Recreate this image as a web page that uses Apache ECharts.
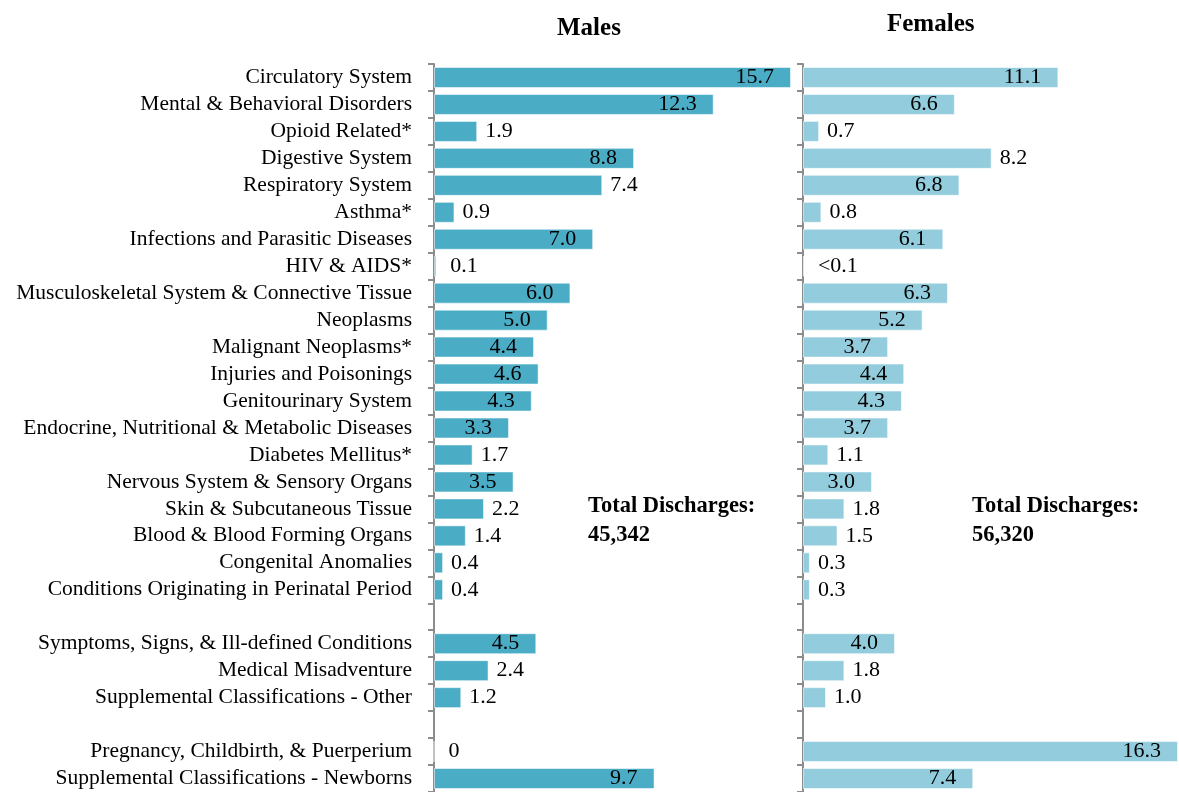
<!DOCTYPE html>
<html>
<head>
<meta charset="utf-8">
<script src="https://cdn.jsdelivr.net/npm/echarts@6/dist/echarts.min.js"></script>
<style>
html,body{margin:0;padding:0;background:#fff;}
#chart{width:1179px;height:792px;}
</style>
</head>
<body>
<div id="chart"></div>
<script>
const categories = [
  'Circulatory System',
  'Mental & Behavioral Disorders',
  'Opioid Related*',
  'Digestive System',
  'Respiratory System',
  'Asthma*',
  'Infections and Parasitic Diseases',
  'HIV & AIDS*',
  'Musculoskeletal System & Connective Tissue',
  'Neoplasms',
  'Malignant Neoplasms*',
  'Injuries and Poisonings',
  'Genitourinary System',
  'Endocrine, Nutritional & Metabolic Diseases',
  'Diabetes Mellitus*',
  'Nervous System & Sensory Organs',
  'Skin & Subcutaneous Tissue',
  'Blood & Blood Forming Organs',
  'Congenital Anomalies',
  'Conditions Originating in Perinatal Period',
  '',
  'Symptoms, Signs, & Ill-defined Conditions',
  'Medical Misadventure',
  'Supplemental Classifications - Other',
  '',
  'Pregnancy, Childbirth, & Puerperium',
  'Supplemental Classifications - Newborns'
];
const maleValues = [15.7, 12.3, 1.9, 8.8, 7.4, 0.9, 7.0, 0.1, 6.0, 5.0, 4.4, 4.6, 4.3, 3.3, 1.7, 3.5, 2.2, 1.4, 0.4, 0.4, null, 4.5, 2.4, 1.2, null, 0, 9.7];
const femaleValues = [11.1, 6.6, 0.7, 8.2, 6.8, 0.8, 6.1, 0.04, 6.3, 5.2, 3.7, 4.4, 4.3, 3.7, 1.1, 3.0, 1.8, 1.5, 0.3, 0.3, null, 4.0, 1.8, 1.0, null, 16.3, 7.4];
const panelTitles = ['Males', 'Females'];
const totalLabel = 'Total Discharges:';
const totals = ['45,342', '56,320'];
// labels placed outside the bar despite being long (as in the reference)
const outsideExceptions = [['Respiratory System'], ['Digestive System']];

const FONT = 'Liberation Serif';

function fmt(v) {
  if (v > 0 && v < 0.1) return '<0.1';
  return v === 0 ? '0' : v.toFixed(1);
}
function buildData(values, panel) {
  return values.map((v, i) => {
    if (v === null) return {value: null, label: {show: false}};
    const inside = v >= 3 && outsideExceptions[panel].indexOf(categories[i]) < 0;
    return {
      value: v,
      label: {
        show: true,
        position: inside ? 'insideRight' : 'right',
        distance: inside ? 17 : (v < 0.2 ? 14 : 8),
        formatter: fmt(v)
      }
    };
  });
}

const chart = echarts.init(document.getElementById('chart'));
const axisLineStyle = {color: '#8c8c8c', width: 2};
const commonY = {
  type: 'category',
  data: categories,
  inverse: true,
  axisLine: {show: true, lineStyle: axisLineStyle},
  axisTick: {show: true, length: 6, interval: 0, lineStyle: axisLineStyle},
  splitLine: {show: false}
};
const labelStyle = {color: '#000', fontFamily: FONT, fontSize: 22, padding: [4, 0, 0, 0]};

chart.setOption({
  animation: false,
  backgroundColor: '#fff',
  grid: [
    {left: 434, width: 357, top: 64, height: 731},
    {left: 803, width: 375, top: 64, height: 731}
  ],
  xAxis: [
    {gridIndex: 0, type: 'value', min: 0, max: 15.7, show: false},
    {gridIndex: 1, type: 'value', min: 0, max: 16.3, show: false}
  ],
  yAxis: [
    Object.assign({}, commonY, {gridIndex: 0, axisLabel: {color: '#000', fontFamily: FONT, fontSize: 21.5, margin: 22, interval: 0, hideOverlap: false}}),
    Object.assign({}, commonY, {gridIndex: 1, axisLabel: {show: false}})
  ],
  series: [
    {
      type: 'bar', xAxisIndex: 0, yAxisIndex: 0, barWidth: 21,
      data: buildData(maleValues, 0),
      itemStyle: {color: '#4BACC6', borderColor: 'rgba(255,255,255,0.55)', borderWidth: 1},
      label: labelStyle
    },
    {
      type: 'bar', xAxisIndex: 1, yAxisIndex: 1, barWidth: 21,
      data: buildData(femaleValues, 1),
      itemStyle: {color: '#93CDDD', borderColor: 'rgba(255,255,255,0.55)', borderWidth: 1},
      label: labelStyle
    }
  ],
  graphic: [
    {type: 'text', left: 557, top: 16, style: {text: panelTitles[0], font: 'bold 25px "' + FONT + '"', fill: '#000'}},
    {type: 'text', left: 887, top: 12, style: {text: panelTitles[1], font: 'bold 25px "' + FONT + '"', fill: '#000'}},
    {type: 'text', left: 588, top: 492, style: {text: totalLabel + '\n' + totals[0], font: 'bold 22.5px "' + FONT + '"', fill: '#000', lineHeight: 29}},
    {type: 'text', left: 972, top: 492, style: {text: totalLabel + '\n' + totals[1], font: 'bold 22.5px "' + FONT + '"', fill: '#000', lineHeight: 29}}
  ]
});
</script>
</body>
</html>
